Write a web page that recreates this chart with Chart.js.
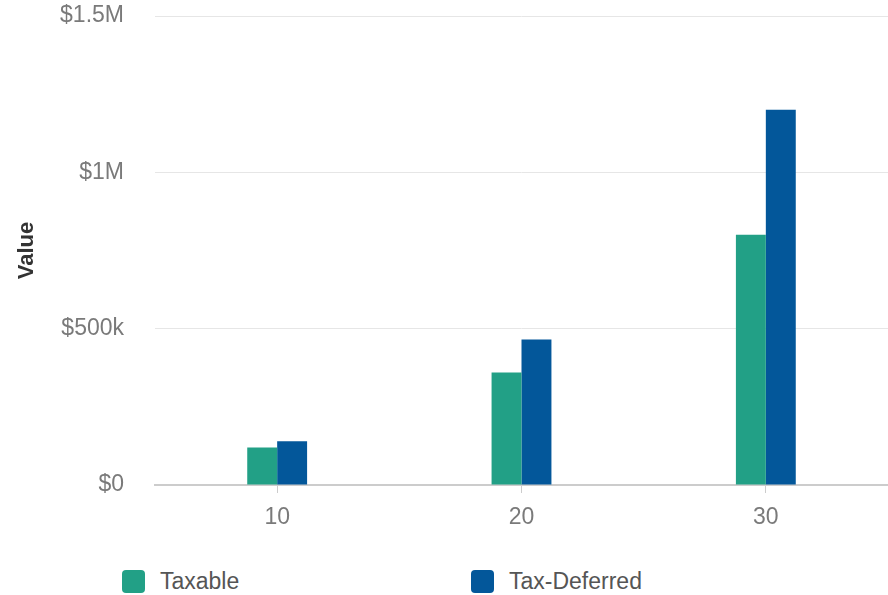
<!DOCTYPE html>
<html>
<head>
<meta charset="utf-8">
<script src="https://cdn.jsdelivr.net/npm/chart.js@4.4.1/dist/chart.umd.min.js"></script>
<style>
  html, body { margin: 0; padding: 0; background: #fff; }
  #wrap { position: relative; width: 888px; height: 595px; overflow: hidden; }
  #chart { position: absolute; left: 0; top: 0; }
  .legend-item { position: absolute; top: 570px; height: 23px; display: flex; align-items: center;
    font-family: "Liberation Sans", Arial, sans-serif; font-size: 23px; color: #555; }
  .legend-box { width: 23px; height: 23px; border-radius: 4px; margin-right: 15px; }
</style>
</head>
<body>
<div id="wrap">
  <canvas id="chart" width="888" height="545"></canvas>
  <div id="legend"></div>
</div>
<script>
const years = ['10', '20', '30'];
const taxable = [120000, 360000, 800000];
const taxDeferred = [140000, 465000, 1200000];
const seriesNames = ['Taxable', 'Tax-Deferred'];
const seriesColors = ['#22a086', '#03579a'];
const yTickValues = [0, 500000, 1000000, 1500000];
const yTickLabels = ['$0', '$500k', '$1M', '$1.5M'];
const legendLeft = [122, 471];

const font = '"Liberation Sans", Arial, sans-serif';

document.addEventListener('DOMContentLoaded', () => {
    const ctx = document.getElementById('chart').getContext('2d');

    new Chart(ctx, {
        type: 'bar',
        data: {
            labels: years,
            datasets: [
                { label: seriesNames[0], data: taxable, backgroundColor: seriesColors[0] },
                { label: seriesNames[1], data: taxDeferred, backgroundColor: seriesColors[1] }
            ]
        },
        options: {
            responsive: false,
            animation: false,
            layout: { padding: { top: 16, right: 0, bottom: 0, left: 0 } },
            datasets: { bar: { categoryPercentage: 0.245, barPercentage: 1 } },
            plugins: { legend: { display: false }, tooltip: { enabled: false } },
            scales: {
                x: {
                    grid: { display: true, drawOnChartArea: false, offset: false, tickLength: 8, color: '#cccccc' },
                    border: { color: '#cccccc', width: 2 },
                    ticks: { color: '#7a7a7a', font: { family: font, size: 23 }, padding: 11 },
                    afterFit: (scale) => { scale.height = 60; }
                },
                y: {
                    min: 0,
                    max: 1500000,
                    afterBuildTicks: (scale) => { scale.ticks = yTickValues.map(v => ({ value: v })); },
                    grid: { color: '#e6e6e6', drawTicks: false },
                    border: { display: false },
                    ticks: {
                        color: '#7a7a7a',
                        font: { family: font, size: 23 },
                        padding: 31,
                        callback: (value) => yTickLabels[yTickValues.indexOf(value)]
                    },
                    title: {
                        display: true,
                        text: 'Value',
                        color: '#333',
                        font: { family: font, size: 22, weight: 'bold', lineHeight: 1.2 },
                        padding: { top: 14, bottom: 0 }
                    },
                    afterFit: (scale) => {
                        // fixed gutter; top label may overflow into the padding
                        scale.width = 155;
                        scale.paddingTop = 0;
                        scale.paddingBottom = 0;
                    }
                }
            }
        }
    });

    // legend below the plot, items spread apart
    const legend = document.getElementById('legend');
    seriesNames.forEach((name, i) => {
        const item = document.createElement('div');
        item.className = 'legend-item';
        item.style.left = legendLeft[i] + 'px';
        const box = document.createElement('div');
        box.className = 'legend-box';
        box.style.background = seriesColors[i];
        item.appendChild(box);
        item.appendChild(document.createTextNode(name));
        legend.appendChild(item);
    });
});
</script>
</body>
</html>
